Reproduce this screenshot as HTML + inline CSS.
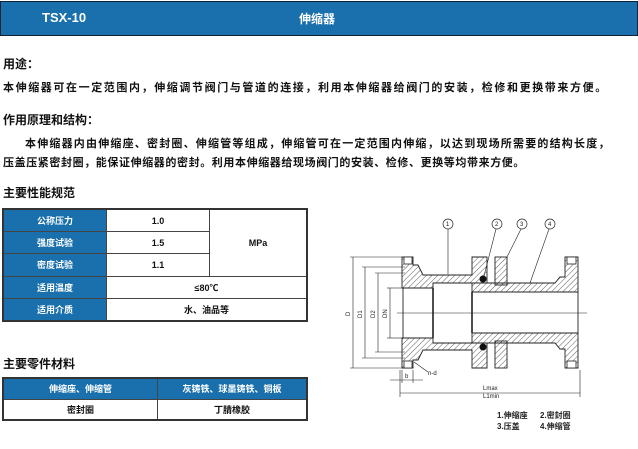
<!DOCTYPE html>
<html><head><meta charset="utf-8"><style>
body{margin:0;width:638px;height:449px;background:#fff;position:relative;overflow:hidden;font-family:"Liberation Sans","Noto Sans CJK SC",sans-serif;color:#111}
.a{position:absolute;white-space:nowrap}
.hdr{position:absolute;left:0;top:1px;width:636px;height:33px;background:#1a70ad;border:1px solid #123}
.b{font-weight:bold}
table{position:absolute;border-collapse:collapse;font-size:9px;font-weight:bold}
td{border:1px solid #444;text-align:center;padding:0}
.bl{background:#1a70ad;color:#fff}
</style></head><body>
<div class="hdr"></div>
<div class="a b" style="left:42px;top:10px;color:#fff;font-size:13px">TSX-10</div>
<div class="a b" style="left:299px;top:10px;color:#fff;font-size:12px">伸缩器</div>
<div class="a b" style="left:3px;top:55px;font-size:12px">用途：</div>
<div class="a b" style="left:3px;top:79px;font-size:11px;letter-spacing:1.6px">本伸缩器可在一定范围内，伸缩调节阀门与管道的连接，利用本伸缩器给阀门的安装，检修和更换带来方便。</div>
<div class="a b" style="left:3px;top:111px;font-size:12px">作用原理和结构：</div>
<div class="a b" style="left:25px;top:135px;font-size:11px;letter-spacing:1.2px">本伸缩器内由伸缩座、密封圈、伸缩管等组成，伸缩管可在一定范围内伸缩，以达到现场所需要的结构长度，</div>
<div class="a b" style="left:3px;top:154px;font-size:11px;letter-spacing:0.6px">压盖压紧密封圈，能保证伸缩器的密封。利用本伸缩器给现场阀门的安装、检修、更换等均带来方便。</div>
<div class="a b" style="left:3px;top:184px;font-size:12px">主要性能规范</div>
<table style="left:2px;top:208px;width:306px;height:114px;border:2px solid #333">
<tr><td class="bl" style="width:102px">公称压力</td><td style="width:102px">1.0</td><td rowspan="3">MPa</td></tr>
<tr><td class="bl">强度试验</td><td>1.5</td></tr>
<tr><td class="bl">密度试验</td><td>1.1</td></tr>
<tr><td class="bl">适用温度</td><td colspan="2">≤80℃</td></tr>
<tr><td class="bl">适用介质</td><td colspan="2">水、油品等</td></tr>
</table>
<div class="a b" style="left:3px;top:355px;font-size:12px">主要零件材料</div>
<table style="left:2px;top:377px;width:306px;height:44px;border:2px solid #333">
<tr><td class="bl" style="width:153px">伸缩座、伸缩管</td><td class="bl">灰铸铁、球墨铸铁、铜板</td></tr>
<tr><td>密封圈</td><td>丁腈橡胶</td></tr>
</table>
<svg style="position:absolute;left:0;top:0" width="638" height="449">
<defs><pattern id="h" width="4" height="4" patternUnits="userSpaceOnUse" patternTransform="rotate(45)"><line x1="0" y1="0" x2="0" y2="4" stroke="#333" stroke-width="0.8"/></pattern></defs>
<g stroke="#222" stroke-width="0.9" fill="url(#h)">
<path d="M402 257 H413 V265 H418 L423 275 H472 V257 H487 V283 H433 V288 H402 Z"/>
<path d="M402 368 H413 V360 H418 L423 350 H472 V368 H487 V343 H433 V338 H402 Z"/>
<rect x="495" y="257" width="12" height="28"/>
<rect x="495" y="341" width="12" height="27"/>
<path d="M472 283 H555 L560 277 H565 V257 H578 V292 H472 Z"/>
<path d="M472 343 H555 L560 349 H565 V368 H578 V333 H472 Z"/>
</g>
<g fill="#fff" stroke="#222" stroke-width="0.8">
<rect x="404" y="257" width="8" height="7"/><rect x="404" y="361" width="8" height="7"/>
<rect x="567" y="257" width="9" height="7"/><rect x="567" y="361" width="9" height="7"/>
</g>
<g stroke="#222" fill="none" stroke-width="0.9">
<line x1="433" y1="288" x2="433" y2="338" stroke-width="1.6"/>
<line x1="472" y1="292" x2="472" y2="333" stroke-width="1.6"/>
<line x1="403" y1="288" x2="403" y2="338"/>
<line x1="397" y1="313" x2="587" y2="313" stroke-width="0.6"/>
<line x1="578" y1="292" x2="578" y2="333"/>
</g>
<circle cx="483" cy="279" r="3.5" fill="#111"/><circle cx="483" cy="347" r="3.5" fill="#111"/>
<g stroke="#222" fill="#fff" stroke-width="0.7">
<circle cx="448" cy="224" r="5"/><circle cx="497" cy="224" r="5"/><circle cx="522" cy="224" r="5"/><circle cx="550" cy="224" r="5"/>
</g>
<g stroke="#222" stroke-width="0.6" fill="none">
<line x1="448" y1="229" x2="448" y2="274"/><line x1="496" y1="229" x2="484" y2="276"/>
<line x1="521" y1="229" x2="507" y2="257"/><line x1="549" y1="229" x2="530" y2="283"/>
<line x1="353" y1="257" x2="353" y2="368"/><line x1="350" y1="257" x2="405" y2="257"/><line x1="350" y1="368" x2="405" y2="368"/>
<line x1="365" y1="267" x2="365" y2="358"/><line x1="362" y1="267" x2="405" y2="267"/><line x1="362" y1="358" x2="405" y2="358"/>
<line x1="378" y1="273" x2="378" y2="352"/><line x1="375" y1="273" x2="405" y2="273"/><line x1="375" y1="352" x2="405" y2="352"/>
<line x1="390" y1="288" x2="390" y2="338"/><line x1="387" y1="288" x2="402" y2="288"/><line x1="387" y1="338" x2="402" y2="338"/>
<line x1="390" y1="380" x2="423" y2="380"/><line x1="402" y1="370" x2="402" y2="383"/><line x1="413" y1="370" x2="413" y2="383"/>
<line x1="400" y1="393" x2="580" y2="393"/><line x1="400" y1="370" x2="400" y2="397"/><line x1="580" y1="370" x2="580" y2="397"/>
<line x1="414" y1="362" x2="428" y2="372"/>
</g>
<g font-size="6" fill="#222" font-family="Liberation Sans,sans-serif">
<text x="446" y="226">1</text><text x="495" y="226">2</text><text x="520" y="226">3</text><text x="548" y="226">4</text>
<text x="350" y="316" transform="rotate(-90 350 316)">D</text>
<text x="362" y="318" transform="rotate(-90 362 318)">D1</text>
<text x="375" y="318" transform="rotate(-90 375 318)">D2</text>
<text x="387" y="318" transform="rotate(-90 387 318)">DN</text>
<text x="405" y="378">b</text><text x="428" y="375">n-d</text>
<text x="483" y="390">Lmax</text><text x="483" y="398">L1min</text>
</g>
<g font-size="8" font-weight="bold" fill="#222">
<text x="497" y="418">1.伸缩座</text><text x="540" y="418">2.密封圈</text>
<text x="497" y="429">3.压盖</text><text x="540" y="429">4.伸缩管</text>
</g>
</svg>
</body></html>
